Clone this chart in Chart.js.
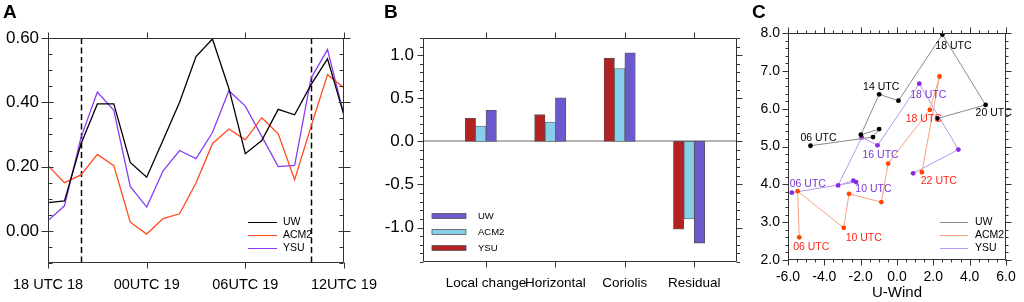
<!DOCTYPE html>
<html>
<head>
<meta charset="utf-8">
<script src="https://cdn.jsdelivr.net/npm/chart.js@4.4.1/dist/chart.umd.min.js"></script>
<style>
  html, body { margin: 0; padding: 0; background: #fff; }
  body { width: 1024px; height: 302px; position: relative; overflow: hidden; }
  canvas { position: absolute; top: 0; }
</style>
</head>
<body>
<canvas id="chartA" width="390" height="302" style="left:0px"></canvas>
<canvas id="chartB" width="365" height="302" style="left:380px"></canvas>
<canvas id="chartC" width="294" height="302" style="left:730px"></canvas>
<script>
// ---- panel A: hourly values, 18 UTC 18 -> 12 UTC 19
const timeTicks = ['18 UTC 18', '00UTC 19', '06UTC 19', '12UTC 19'];
const markHours = [2, 16];
const uwA   = [0.088, 0.093, 0.27, 0.395, 0.395, 0.213, 0.167, 0.283, 0.40, 0.542, 0.597, 0.443, 0.24, 0.281, 0.378, 0.361, 0.455, 0.535, 0.36];
const acm2A = [0.203, 0.150, 0.174, 0.238, 0.203, 0.027, -0.010, 0.038, 0.053, 0.149, 0.271, 0.317, 0.283, 0.352, 0.302, 0.159, 0.325, 0.486, 0.445];
const ysuA  = [0.032, 0.078, 0.29, 0.432, 0.375, 0.138, 0.074, 0.187, 0.25, 0.225, 0.306, 0.436, 0.388, 0.294, 0.20, 0.204, 0.475, 0.564, 0.36];
const yTicksA = [0, 0.2, 0.4, 0.6];

// ---- panel B: budget terms
const terms = ['Local change', 'Horizontal', 'Coriolis', 'Residual'];
const ysuB  = [0.267, 0.31, 0.966, -1.02];
const acm2B = [0.178, 0.225, 0.846, -0.90];
const uwB   = [0.36, 0.506, 1.028, -1.18];
const yTicksB = [-1.0, -0.5, 0, 0.5, 1.0];

// ---- panel C: hodograph, every 2 h from 06 UTC to 22 UTC
const cTimes = ['06 UTC', '08 UTC', '10 UTC', '12 UTC', '14 UTC', '16 UTC', '18 UTC', '20 UTC', '22 UTC'];
const uwU   = [-4.76, -1.32, -0.98, -1.99, -0.98, 0.08, 2.50, 4.88, 2.22];
const uwV   = [5.02, 5.25, 5.46, 5.31, 6.38, 6.21, 7.96, 6.10, 5.74];
const acm2U = [-5.38, -5.47, -2.93, -2.64, -0.86, -0.49, 1.81, 2.34, 1.37];
const acm2V = [2.60, 3.82, 2.85, 3.75, 3.53, 4.55, 5.97, 6.85, 4.32];
const ysuU  = [-5.79, -2.25, -2.40, -3.24, -1.94, -1.07, 1.23, 3.38, 0.89];
const ysuV  = [3.78, 4.06, 4.10, 3.97, 5.24, 5.03, 6.66, 4.92, 4.29];
const uwTags   = [0, 4, 6, 7];
const acm2Tags = [0, 2, 6, 8];
const ysuTags  = [0, 2, 5, 6];
const xTicksC = [-6, -4, -2, 0, 2, 4, 6];
const yTicksC = [2, 3, 4, 5, 6, 7, 8];

const FONT = '"Liberation Sans", Arial, Helvetica, sans-serif';
Chart.defaults.font.family = FONT;
Chart.defaults.color = '#000';

// frame + major/minor ticks on all four sides
const framePlugin = {
  id: 'frame',
  beforeDatasetsDraw(chart, args, o) {
    const {ctx, chartArea: a, scales: {x, y}} = chart;
    ctx.save();
    if (o.vlines) {
      ctx.strokeStyle = '#000'; ctx.lineWidth = 1.5; ctx.setLineDash([6, 3.5]);
      o.vlines.forEach(v => {
        const p = Math.round(x.getPixelForValue(v)) + 0.5;
        ctx.beginPath(); ctx.moveTo(p, a.top); ctx.lineTo(p, a.bottom); ctx.stroke();
      });
      ctx.setLineDash([]);
    }
    if (o.zero !== undefined && o.zero !== null) {
      const p = Math.round(y.getPixelForValue(o.zero));
      ctx.strokeStyle = '#9a9a9a'; ctx.lineWidth = 1.5;
      ctx.beginPath(); ctx.moveTo(a.left, p); ctx.lineTo(a.right, p); ctx.stroke();
    }
    ctx.restore();
  },
  afterDraw(chart, args, o) {
    const {ctx, chartArea: a, scales: {x, y}} = chart;
    const L = Math.round(a.left) + 0.5, R = Math.round(a.right) - 0.5;
    const T = Math.round(a.top) + 0.5, B = Math.round(a.bottom) - 0.5;
    ctx.save();
    ctx.strokeStyle = '#333'; ctx.lineWidth = 1;
    ctx.beginPath();
    const seg = (x1, y1, x2, y2) => { ctx.moveTo(x1, y1); ctx.lineTo(x2, y2); };
    ctx.rect(L, T, R - L, B - T);
    const yt = o.yt, xt = o.xt;
    o.yMajor.forEach(v => {
      const p = Math.round(y.getPixelForValue(v)) + 0.5;
      seg(L - yt[0], p, L + yt[1], p); seg(R + yt[0], p, R - yt[1], p);
    });
    if (o.yMinor) {
      for (let k = Math.ceil(y.min / o.yMinor - 1e-6); k <= Math.floor(y.max / o.yMinor + 1e-6); k++) {
        const p = Math.round(y.getPixelForValue(k * o.yMinor)) + 0.5;
        seg(L - yt[2], p, L + yt[3], p); seg(R + yt[2], p, R - yt[3], p);
      }
    }
    o.xMajor.forEach(v => {
      const p = Math.round(x.getPixelForValue(v)) + 0.5;
      seg(p, B + xt[0], p, B - xt[1]); seg(p, T - xt[0], p, T + xt[1]);
    });
    if (o.xMinor) {
      for (let k = Math.ceil(x.min / o.xMinor - 1e-6); k <= Math.floor(x.max / o.xMinor + 1e-6); k++) {
        const p = Math.round(x.getPixelForValue(k * o.xMinor)) + 0.5;
        seg(p, B + xt[2], p, B - xt[3]); seg(p, T - xt[2], p, T + xt[3]);
      }
    }
    ctx.stroke();
    // panel letter
    ctx.fillStyle = '#000';
    ctx.font = 'bold 19px ' + FONT;
    ctx.textBaseline = 'alphabetic'; ctx.textAlign = 'left';
    ctx.fillText(o.tag[0], o.tag[1], o.tag[2]);
    ctx.restore();
  }
};

// legend drawn inside the plot area
const inLegend = {
  id: 'inlegend',
  afterDraw(chart, args, o) {
    const ctx = chart.ctx;
    ctx.save();
    ctx.font = o.size + 'px ' + FONT;
    ctx.textBaseline = 'middle'; ctx.textAlign = 'left';
    o.order.forEach((di, k) => {
      const ds = chart.data.datasets[di];
      const yy = Math.round(o.y + k * o.dy);
      if (o.box) {
        ctx.fillStyle = ds.backgroundColor;
        ctx.fillRect(o.x, yy - 2.5, o.len, 5);
        ctx.strokeStyle = '#555'; ctx.lineWidth = 0.8;
        ctx.strokeRect(o.x, yy - 2.5, o.len, 5);
      } else {
        ctx.strokeStyle = ds.borderColor; ctx.lineWidth = 1;
        ctx.beginPath(); ctx.moveTo(o.x, yy + 0.5); ctx.lineTo(o.x + o.len, yy + 0.5); ctx.stroke();
      }
      ctx.fillStyle = '#000';
      ctx.fillText(ds.label, o.x + o.len + o.gap, yy + 0.5);
    });
    ctx.restore();
  }
};

// time tags next to hodograph points
const timeTags = {
  id: 'timetags',
  afterDatasetsDraw(chart, args, o) {
    const ctx = chart.ctx;
    ctx.save();
    ctx.font = o.size + 'px ' + FONT;
    ctx.textAlign = 'center'; ctx.textBaseline = 'middle';
    o.tags.forEach(t => {
      const pt = chart.getDatasetMeta(t[0]).data[t[1]];
      ctx.fillStyle = o.colors[t[0]];
      ctx.fillText(cTimes[t[1]], pt.x + t[2], pt.y + t[3]);
    });
    ctx.restore();
  }
};

const fixTicks = vals => scale => { scale.ticks = vals.map(v => ({value: v})); };

// ---------------- A ----------------
const series = (arr) => arr.map((v, i) => ({x: i, y: v}));
new Chart(document.getElementById('chartA'), {
  type: 'line',
  data: {
    datasets: [
      {label: 'UW', data: series(uwA), borderColor: '#000000', borderWidth: 1.3},
      {label: 'ACM2', data: series(acm2A), borderColor: '#ff4a1c', borderWidth: 1.3},
      {label: 'YSU', data: series(ysuA), borderColor: '#8a3df2', borderWidth: 1.3}
    ]
  },
  options: {
    responsive: false, animation: false,
    layout: {padding: {left: 0, right: 39, top: 38, bottom: 0}},
    elements: {point: {radius: 0}, line: {tension: 0}},
    plugins: {
      legend: {display: false}, tooltip: {enabled: false},
      frame: {vlines: markHours, yMajor: yTicksA, yMinor: 0.05, xMajor: [0, 6, 12, 18], xMinor: null,
              yt: [7, 5, 0, 4], xt: [6, 0, 0, 0], tag: ['A', 3, 18]},
      inlegend: {x: 248, y: 222, dy: 13, len: 29, gap: 6, size: 10.5, order: [0, 1, 2]}
    },
    scales: {
      x: {
        type: 'linear', min: 0, max: 18,
        afterBuildTicks: fixTicks([0, 6, 12, 18]),
        afterFit: s => { s.height = 39; },
        grid: {display: false, drawTicks: false}, border: {display: false},
        ticks: {callback: (v, i) => timeTicks[i], font: {size: 14.5}, padding: 13, maxRotation: 0, autoSkip: false}
      },
      y: {
        min: -0.1, max: 0.6,
        afterBuildTicks: fixTicks(yTicksA),
        afterFit: s => { s.width = 43; },
        grid: {display: false, drawTicks: false}, border: {display: false},
        ticks: {callback: v => v.toFixed(2), font: {size: 17}, padding: 9}
      }
    }
  },
  plugins: [framePlugin, inLegend]
});

// ---------------- B ----------------
const barOffsets = [-0.225, -0.075, 0.075];
const bars = (arr, k) => arr.map((v, i) => ({x: i + 1 + barOffsets[k], y: v}));
new Chart(document.getElementById('chartB'), {
  type: 'bar',
  data: {
    datasets: [
      {label: 'YSU', data: bars(ysuB, 0), backgroundColor: '#b22222'},
      {label: 'ACM2', data: bars(acm2B, 1), backgroundColor: '#87ceeb'},
      {label: 'UW', data: bars(uwB, 2), backgroundColor: '#6a5acd'}
    ]
  },
  options: {
    responsive: false, animation: false,
    layout: {padding: {left: 0, right: 8, top: 38, bottom: 0}},
    datasets: {bar: {grouped: false, barThickness: 10.4, borderWidth: 0.8, borderColor: '#555', borderSkipped: false}},
    plugins: {
      legend: {display: false}, tooltip: {enabled: false},
      frame: {zero: 0, yMajor: yTicksB, yMinor: 0.1, xMajor: [1, 2, 3, 4], xMinor: null,
              yt: [6, 0, 3.5, 0], xt: [6, 0, 0, 0], tag: ['B', 4, 18]},
      inlegend: {x: 52, y: 216, dy: 16, len: 34, gap: 12, size: 9.5, order: [2, 1, 0], box: true}
    },
    scales: {
      x: {
        type: 'linear', min: 0.0926, max: 4.615, offset: false,
        afterBuildTicks: fixTicks([1, 2, 3, 4]),
        afterFit: s => { s.height = 40; },
        grid: {display: false, drawTicks: false}, border: {display: false},
        ticks: {callback: (v, i) => terms[i], font: {size: 13.5}, padding: 12.8, maxRotation: 0, autoSkip: false}
      },
      y: {
        min: -1.4, max: 1.2,
        afterBuildTicks: fixTicks(yTicksB),
        afterFit: s => { s.width = 43; },
        grid: {display: false, drawTicks: false}, border: {display: false},
        ticks: {callback: v => v.toFixed(1), font: {size: 17}, padding: 9}
      }
    }
  },
  plugins: [framePlugin, inLegend]
});

// ---------------- C ----------------
const pairs = (us, vs) => us.map((u, i) => ({x: u, y: vs[i]}));
const tagOffsets = [
  [0, 0, 8, -8], [0, 4, 2, -7], [0, 6, 11, 12], [0, 7, 8, 8],
  [1, 0, 12, 10], [1, 2, 20, 10], [1, 6, -6, 9], [1, 8, 17, 9],
  [2, 0, 16, -9], [2, 2, 20, 9], [2, 5, 3, 10], [2, 6, 9, 11]
];
new Chart(document.getElementById('chartC'), {
  type: 'scatter',
  data: {
    datasets: [
      {label: 'UW', data: pairs(uwU, uwV), showLine: true, borderColor: '#8a8a8a', borderWidth: 1,
       pointBackgroundColor: '#000', pointBorderWidth: 0, pointRadius: 2.4},
      {label: 'ACM2', data: pairs(acm2U, acm2V), showLine: true, borderColor: '#f8a080', borderWidth: 1,
       pointBackgroundColor: '#ff4500', pointBorderWidth: 0, pointRadius: 2.4},
      {label: 'YSU', data: pairs(ysuU, ysuV), showLine: true, borderColor: '#b898f2', borderWidth: 1,
       pointBackgroundColor: '#8a2be2', pointBorderWidth: 0, pointRadius: 2.4}
    ]
  },
  options: {
    responsive: false, animation: false,
    layout: {padding: {left: 0, right: 10, top: 33, bottom: 0}},
    elements: {line: {tension: 0}},
    plugins: {
      legend: {display: false}, tooltip: {enabled: false},
      frame: {yMajor: yTicksC, yMinor: 0.2, xMajor: xTicksC, xMinor: 0.5,
              yt: [6, 0, 3, 0], xt: [6, 0, 3, 0], tag: ['C', 22, 18]},
      inlegend: {x: 210, y: 222, dy: 13, len: 28, gap: 7, size: 10.5, order: [0, 1, 2]},
      timetags: {size: 10.5, colors: ['#000', '#ff2418', '#7a38d4'],
                 tags: tagOffsets.filter(t => [uwTags, acm2Tags, ysuTags][t[0]].includes(t[1]))}
    },
    scales: {
      x: {
        type: 'linear', min: -6, max: 6,
        afterBuildTicks: fixTicks(xTicksC),
        afterFit: s => { s.height = 42; },
        grid: {display: false, drawTicks: false}, border: {display: false},
        ticks: {callback: v => v.toFixed(1), font: {size: 14}, padding: 8.3, maxRotation: 0, autoSkip: false},
        title: {display: true, text: 'U-Wind', font: {size: 15}, padding: {top: 0, bottom: 0}}
      },
      y: {
        min: 2, max: 8,
        afterBuildTicks: fixTicks(yTicksC),
        afterFit: s => { s.width = 58; },
        grid: {display: false, drawTicks: false}, border: {display: false},
        ticks: {callback: v => v.toFixed(1), font: {size: 14}, padding: 8}
      }
    }
  },
  plugins: [framePlugin, inLegend, timeTags]
});
</script>
</body>
</html>
